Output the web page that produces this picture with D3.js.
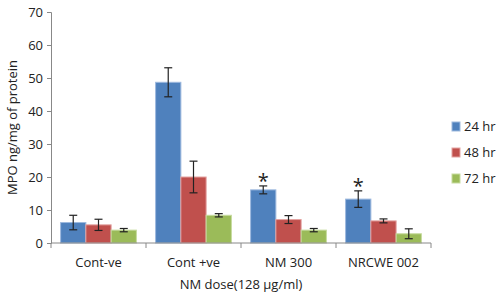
<!DOCTYPE html>
<html>
<head>
<meta charset="utf-8">
<script src="https://cdn.jsdelivr.net/npm/d3@7"></script>
<style>
  body { margin:0; background:#fff; }
  svg text { font-family: "Open Sans", "Noto Sans", sans-serif; fill:#222; }
</style>
</head>
<body>
<div id="chart"></div>
<script>
const categories = ["Cont-ve", "Cont +ve", "NM 300", "NRCWE 002"];
const seriesNames = ["24 hr", "48 hr", "72 hr"];
const values24 = [6.2, 48.7, 16.1, 13.3];
const values48 = [5.5, 20.0, 7.1, 6.7];
const values72 = [3.9, 8.4, 3.9, 2.8];
const err24 = [2.2, 4.4, 1.2, 2.5];
const err48 = [1.7, 4.8, 1.2, 0.6];
const err72 = [0.5, 0.5, 0.5, 1.5];
const starred = ["NM 300", "NRCWE 002"];
const yTicks = [0, 10, 20, 30, 40, 50, 60, 70];
const colors = ["#4F81BD", "#C0504D", "#9BBB59"];
const strokes = ["#9DB9DE", "#E3A3A1", "#C7DB9F"];

const width = 500, height = 298;
const margin = { left: 51, right: 69, top: 12, bottom: 55 };

const series = [values24, values48, values72].map((vals, i) => ({
  name: seriesNames[i],
  rows: categories.map((c, j) => ({ cat: c, value: vals[j], err: [err24, err48, err72][i][j] })),
}));

const svg = d3.select("#chart").append("svg")
  .attr("width", width).attr("height", height);

const x = d3.scaleBand().domain(categories)
  .range([margin.left, width - margin.right]);
const xi = d3.scaleBand().domain(seriesNames)
  .range([0, x.bandwidth()]).paddingOuter(0.38).paddingInner(0);
const y = d3.scaleLinear().domain([0, 70])
  .range([height - margin.bottom, margin.top]);

// y axis
const gy = svg.append("g").attr("transform", `translate(${margin.left},0)`)
  .call(d3.axisLeft(y).tickValues(yTicks).tickSize(4).tickPadding(4));
gy.select(".domain").attr("stroke", "#888");
gy.selectAll(".tick line").attr("stroke", "#888");
gy.selectAll(".tick text").attr("font-size", 13).attr("fill", "#222");

// bars
series.forEach((s, i) => {
  const g = svg.append("g");
  g.selectAll("rect").data(s.rows).join("rect")
    .attr("x", d => x(d.cat) + xi(s.name))
    .attr("y", d => y(d.value))
    .attr("width", xi.bandwidth())
    .attr("height", d => y(0) - y(d.value))
    .attr("fill", colors[i])
    .attr("stroke", strokes[i])
    .attr("stroke-width", 1);
});

// x axis (boundary ticks)
const gx = svg.append("g").attr("transform", `translate(0,${y(0)})`);
gx.append("line").attr("x1", margin.left).attr("x2", width - margin.right)
  .attr("stroke", "#888");
const bounds = categories.map(c => x(c)).concat([x(categories[3]) + x.bandwidth()]);
gx.selectAll("line.tk").data(bounds).join("line").attr("class", "tk")
  .attr("x1", d => d).attr("x2", d => d).attr("y1", 0).attr("y2", 5)
  .attr("stroke", "#888");
gx.selectAll("text").data(categories).join("text")
  .attr("x", d => x(d) + x.bandwidth() / 2).attr("y", 24)
  .attr("text-anchor", "middle").attr("font-size", 13).text(d => d);

// error bars
series.forEach((s, i) => {
  const g = svg.append("g").attr("stroke", "#222").attr("stroke-width", 1.2);
  s.rows.forEach(d => {
    const cx = x(d.cat) + xi(s.name) + xi.bandwidth() / 2;
    const y1 = y(d.value + d.err), y2 = y(d.value - d.err);
    g.append("line").attr("x1", cx).attr("x2", cx).attr("y1", y1).attr("y2", y2);
    g.append("line").attr("x1", cx - 4).attr("x2", cx + 4).attr("y1", y1).attr("y2", y1);
    g.append("line").attr("x1", cx - 4).attr("x2", cx + 4).attr("y1", y2).attr("y2", y2);
  });
});

// significance stars
svg.selectAll("text.star").data(series[0].rows.filter(d => starred.includes(d.cat)))
  .join("text").attr("class", "star")
  .attr("x", d => x(d.cat) + xi(seriesNames[0]) + xi.bandwidth() / 2)
  .attr("y", d => y(d.value + d.err) + 2)
  .attr("text-anchor", "middle").attr("font-size", 20).text("*");

// axis titles
svg.append("text").attr("x", (margin.left + width - margin.right) / 2).attr("y", 289)
  .attr("text-anchor", "middle").attr("font-size", 13).text("NM dose(128 µg/ml)");
svg.append("text")
  .attr("transform", `translate(17,${(margin.top + height - margin.bottom) / 2}) rotate(-90)`)
  .attr("text-anchor", "middle").attr("font-size", 13).text("MPO ng/mg of protein");

// legend
const lg = svg.append("g").attr("transform", "translate(452,126)");
lg.selectAll("rect").data(seriesNames).join("rect")
  .attr("x", 0).attr("y", (d, i) => i * 26 - 4)
  .attr("width", 8).attr("height", 9)
  .attr("fill", (d, i) => colors[i]).attr("stroke", (d, i) => strokes[i]);
lg.selectAll("text").data(seriesNames).join("text")
  .attr("x", 12).attr("y", (d, i) => i * 26 + 5)
  .attr("font-size", 13).text(d => d);
</script>
</body>
</html>
